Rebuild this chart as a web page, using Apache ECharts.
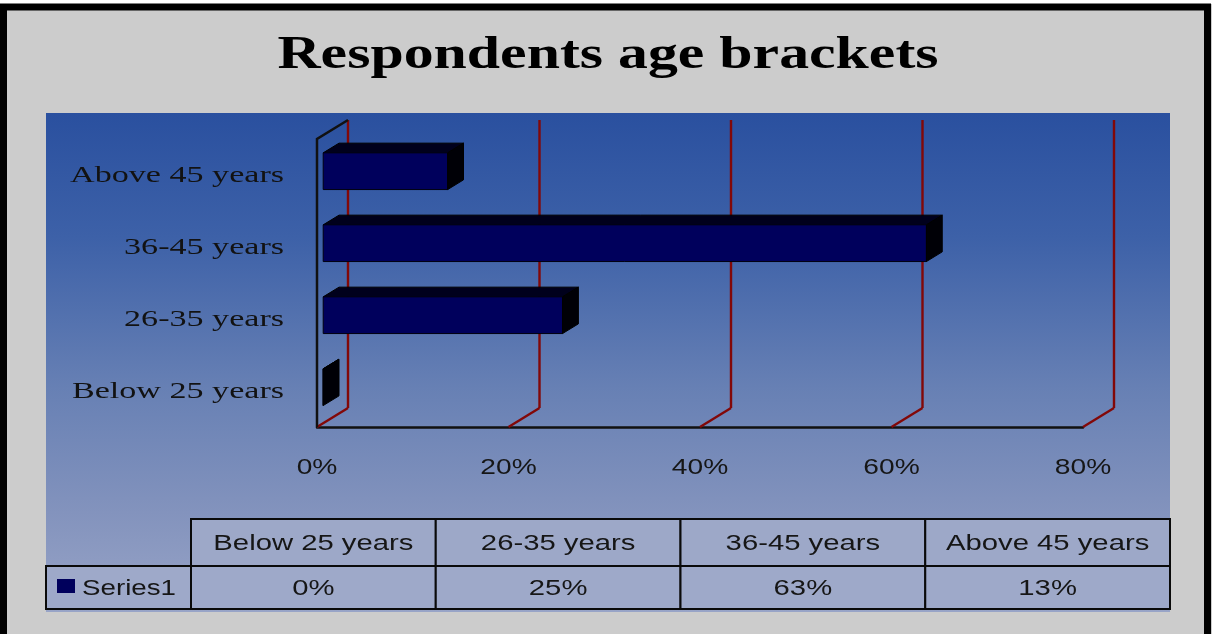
<!DOCTYPE html>
<html>
<head>
<meta charset="utf-8">
<title>Respondents age brackets</title>
<script src="https://cdn.jsdelivr.net/npm/echarts@6/dist/echarts.min.js"></script>
<style>
  html, body { margin: 0; padding: 0; background: #ffffff; }
  #chart { width: 1212px; height: 634px; }
</style>
</head>
<body>
<div id="chart"></div>
<script>
// Chart data
const titleText = 'Respondents age brackets';
const seriesName = 'Series1';
const categories = ['Below 25 years', '26-35 years', '36-45 years', 'Above 45 years'];
const shares = [0, 25, 63, 13];          // percent of respondents
const tickValues = [0, 20, 40, 60, 80];  // value-axis ticks (percent)

// 3D look: offset from the front plane to the back wall, and where bars sit in that depth
const DEPTH = [31, -19];
const BAR_FRONT = 0.2;
const BAR_BACK = 0.71;
const GRID_RED = '#820808';
const SANS_STRETCH = 1.33;
const SERIF_STRETCH = 1.42;

const chart = echarts.init(document.getElementById('chart'), null, { renderer: 'canvas' });

function pct(v) { return v + '%'; }

const sansFont = { fontFamily: '"Liberation Sans", Arial, sans-serif', fontSize: 22, fill: '#161616' };

// Back-wall grid lines, floor diagonals, left wall and tick labels
function renderFrame(params, api) {
  const cs = params.coordSys;
  const v = api.value(0);
  const x = api.coord([v, 0])[0];
  const bottom = cs.y + cs.height;
  const top = cs.y;
  const children = [
    { type: 'line', shape: { x1: x, y1: bottom, x2: x + DEPTH[0], y2: bottom + DEPTH[1] },
      style: { stroke: GRID_RED, lineWidth: 2.4 } },
    { type: 'line', shape: { x1: x + DEPTH[0], y1: bottom + DEPTH[1], x2: x + DEPTH[0], y2: top + DEPTH[1] },
      style: { stroke: GRID_RED, lineWidth: 2.4 } },
    { type: 'text', x: x, y: bottom + 41, scaleX: 1.28,
      style: Object.assign({ text: pct(v), x: 0, y: 0, align: 'center', verticalAlign: 'middle' }, sansFont) }
  ];
  if (params.dataIndex === 0) {
    children.push({ type: 'polyline',
      shape: { points: [[x, bottom], [x, top], [x + DEPTH[0], top + DEPTH[1]]] },
      style: { stroke: '#111111', lineWidth: 2.5, fill: null } });
  }
  return { type: 'group', children: children };
}

// 3D bars: front face, top face and right end face
function renderBar(params, api) {
  const v = api.value(0);
  const idx = api.value(1);
  const s = api.coord([0, idx]);
  const e = api.coord([v, idx]);
  const bandH = api.size([0, 1])[1];
  const h = bandH * 0.51;
  const dx0 = DEPTH[0] * BAR_FRONT, dy0 = DEPTH[1] * BAR_FRONT;
  const dx1 = DEPTH[0] * BAR_BACK, dy1 = DEPTH[1] * BAR_BACK;
  const ty = s[1] - h / 2, by = s[1] + h / 2;
  const sx = s[0], ex = e[0];
  return {
    type: 'group',
    children: [
      { type: 'polygon',
        shape: { points: [[sx + dx0, ty + dy0], [ex + dx0, ty + dy0], [ex + dx1, ty + dy1], [sx + dx1, ty + dy1]] },
        style: { fill: '#00001c', stroke: '#000000', lineWidth: 1 } },
      { type: 'rect',
        shape: { x: sx + dx0, y: ty + dy0, width: ex - sx, height: h },
        style: { fill: '#00005c', stroke: '#000010', lineWidth: 1 } },
      { type: 'polygon',
        shape: { points: [[ex + dx0, ty + dy0], [ex + dx1, ty + dy1], [ex + dx1, by + dy1], [ex + dx0, by + dy0]] },
        style: { fill: '#000006', stroke: '#000000', lineWidth: 1 } }
    ]
  };
}

// Category labels (serif, to the left of the wall)
function renderCategoryLabel(params, api) {
  const cs = params.coordSys;
  const idx = api.value(1);
  const y = api.coord([0, idx])[1];
  return {
    type: 'text', x: cs.x - 33, y: y + 1, scaleX: SERIF_STRETCH,
    style: { text: categories[idx], x: 0, y: 0, align: 'right', verticalAlign: 'middle',
             fontFamily: '"Liberation Serif", "Times New Roman", serif', fontSize: 24, fill: '#121212' }
  };
}

// Data table under the chart
const table = { left: 191, right: 1170, top: 519, mid: 566, bottom: 609, keyLeft: 46 };
const colW = (table.right - table.left) / categories.length;

const graphics = [
  { type: 'rect', z: -20, shape: { x: 0, y: 0, width: 1212, height: 4 }, style: { fill: '#ffffff' } },
  { type: 'rect', z: -10, shape: { x: 46, y: 113, width: 1124, height: 499 },
    style: { fill: new echarts.graphic.LinearGradient(0, 0, 0, 1, [
      { offset: 0, color: '#2a509f' },
      { offset: 0.25, color: '#3d61a8' },
      { offset: 0.55, color: '#6780b4' },
      { offset: 0.8, color: '#8393bd' },
      { offset: 1, color: '#98a4c7' }
    ]) } },
  { type: 'rect', z: 50, shape: { x: 3.5, y: 7, width: 1204, height: 640 },
    style: { fill: null, stroke: '#000000', lineWidth: 7 } },
  { type: 'text', z: 20, x: 608, y: 56, scaleX: 1.3,
    style: { text: titleText, x: 0, y: 0, align: 'center', verticalAlign: 'middle',
             fontFamily: '"Liberation Serif", "Times New Roman", serif', fontWeight: 'bold',
             fontSize: 46, fill: '#000000' } }
];

categories.forEach(function (c, i) {
  const x0 = table.left + i * colW;
  graphics.push({ type: 'rect', z: 10, shape: { x: x0, y: table.top, width: colW, height: table.mid - table.top },
    style: { fill: '#9da8c8', stroke: '#0a0a0a', lineWidth: 2 } });
  graphics.push({ type: 'rect', z: 10, shape: { x: x0, y: table.mid, width: colW, height: table.bottom - table.mid },
    style: { fill: '#9ea9c9', stroke: '#0a0a0a', lineWidth: 2 } });
  graphics.push({ type: 'text', z: 11, x: x0 + colW / 2, y: (table.top + table.mid) / 2 + 1, scaleX: SANS_STRETCH,
    style: Object.assign({ text: c, x: 0, y: 0, align: 'center', verticalAlign: 'middle' }, sansFont) });
  graphics.push({ type: 'text', z: 11, x: x0 + colW / 2, y: (table.mid + table.bottom) / 2 + 1, scaleX: SANS_STRETCH,
    style: Object.assign({ text: pct(shares[i]), x: 0, y: 0, align: 'center', verticalAlign: 'middle' }, sansFont) });
});
graphics.push({ type: 'rect', z: 10, shape: { x: table.keyLeft, y: table.mid, width: table.left - table.keyLeft, height: table.bottom - table.mid },
  style: { fill: '#9ea9c9', stroke: '#0a0a0a', lineWidth: 2 } });
graphics.push({ type: 'rect', z: 11, shape: { x: 57, y: 579, width: 18, height: 14 }, style: { fill: '#00005c' } });
graphics.push({ type: 'text', z: 11, x: 82, y: (table.mid + table.bottom) / 2 + 1, scaleX: 1.26,
  style: Object.assign({ text: seriesName, x: 0, y: 0, align: 'left', verticalAlign: 'middle' }, sansFont) });

const option = {
  animation: false,
  backgroundColor: '#cccccc',
  grid: { left: 317, top: 139, width: 766, height: 288, containLabel: false },
  xAxis: {
    type: 'value', min: 0, max: 80, interval: 20,
    axisLine: { show: true, lineStyle: { color: '#111111', width: 2.5 } },
    axisTick: { show: false }, axisLabel: { show: false }, splitLine: { show: false }
  },
  yAxis: {
    type: 'category', data: categories,
    axisLine: { show: false }, axisTick: { show: false }, axisLabel: { show: false }, splitLine: { show: false }
  },
  graphic: graphics,
  series: [
    { type: 'custom', name: 'frame', z: 1, renderItem: renderFrame, data: tickValues.map(function (v) { return [v]; }), silent: true },
    { type: 'custom', name: seriesName, z: 3, renderItem: renderBar, data: shares.map(function (v, i) { return [v, i]; }) },
    { type: 'custom', name: 'labels', z: 3, renderItem: renderCategoryLabel, data: categories.map(function (c, i) { return [0, i]; }), silent: true }
  ]
};

chart.setOption(option);
</script>
</body>
</html>
